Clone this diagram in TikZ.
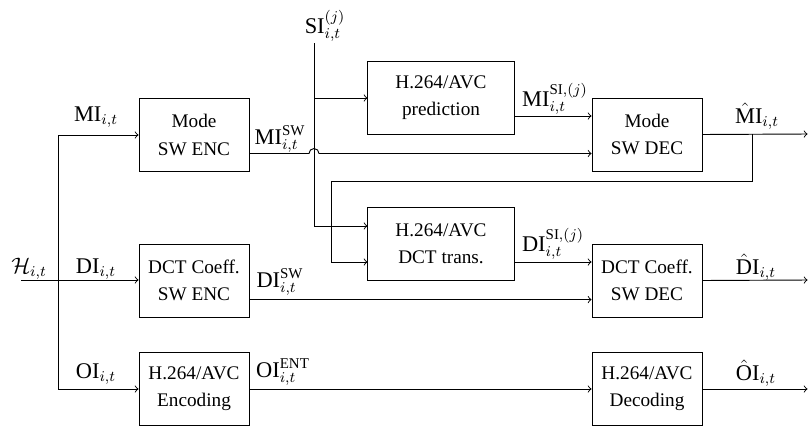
\documentclass[tikz,border=0pt]{standalone}
\usepackage{fontspec}
\setmainfont{Liberation Serif}
\begin{document}
\begin{tikzpicture}[x=0.5353pt,y=-0.5353pt,
  blk/.style={draw,line width=0.5pt,minimum width=58.9pt,minimum height=39.1pt,inner sep=0pt,align=center,font=\fontsize{10.3}{14.5}\selectfont},
  wblk/.style={blk,minimum width=78.2pt},
  lbl/.style={inner sep=0pt,font=\fontsize{12}{14}\selectfont},
  wire/.style={line width=0.5pt},
  arr/.style={wire,->}]
\clip (0,0) rectangle (809,425);
\useasboundingbox (0,0) rectangle (809,425);
% blocks
\node[blk] (me) at (194,135) {Mode\\SW ENC};
\node[blk] (de) at (194,280.5) {DCT Coeff.\\SW ENC};
\node[blk] (en) at (194,389) {H.264/AVC\\Encoding};
\node[wblk] (pr) at (441,98) {H.264/AVC\\prediction};
\node[wblk] (tr) at (441,244) {H.264/AVC\\DCT trans.};
\node[blk] (md) at (647,134.5) {Mode\\SW DEC};
\node[blk] (dd) at (647,280.5) {DCT Coeff.\\SW DEC};
\node[blk] (dc) at (647,389) {H.264/AVC\\Decoding};
% coordinates
\coordinate (hin) at (21,280);
\coordinate (sp) at (58,280);
\coordinate (si) at (314,43);
\coordinate (fb) at (752,134);
\coordinate (mout) at (807.5,134);
\coordinate (dout) at (807.5,280);
\coordinate (oout) at (807.5,389);
% left split
\draw[wire] (hin) -- (sp);
\draw[arr] (sp) -- (sp -| de.west);
\draw[arr] (sp) |- (me.west);
\draw[arr] (sp) |- (en.west);
% SI
\draw[arr] (si) |- ([yshift=9.64pt]tr.west);
\draw[arr] (si |- pr.west) -- (pr.west);
% predictions
\draw[arr] ([yshift=-9.64pt]pr.east) -- ([yshift=-9.64pt]pr.east -| md.west);
\draw[arr] ([yshift=-9.64pt]tr.east) -- ([yshift=-9.64pt]tr.east -| dd.west);
% MI SW with jump
\draw[arr] ([yshift=-9.9pt]me.east) -- (309,153.5) arc[start angle=180,end angle=360,radius=5] -- ([yshift=-9.9pt]me.east -| md.west);
% DI SW
\draw[arr] ([yshift=-10.2pt]de.east) -- ([yshift=-10.2pt]de.east -| dd.west);
% OI ENT
\draw[arr] (en.east) -- (dc.west);
% outputs
\draw[arr] (md.east) -- (mout);
\draw[arr] (dd.east) -- (dout);
\draw[arr] (dc.east) -- (oout);
% feedback
\draw[arr] (fb) |- (331,181) |- ([yshift=-9.64pt]tr.west);
% labels
\node[lbl] (lsi) at (325,26) {$\mathrm{SI}_{i,t}^{(j)}$};
\node[lbl] (lmi) at (96,117) {$\mathrm{MI}_{i,t}$};
\node[lbl] (lmisw) at (280,139) {$\mathrm{MI}_{i,t}^{\mathrm{SW}}$};
\node[lbl] (lh) at (29,269) {$\mathcal{H}_{i,t}$};
\node[lbl] (ldi) at (96,269) {$\mathrm{DI}_{i,t}$};
\node[lbl] (ldisw) at (280,282) {$\mathrm{DI}_{i,t}^{\mathrm{SW}}$};
\node[lbl] (loi) at (96,374) {$\mathrm{OI}_{i,t}$};
\node[lbl] (loient) at (283,372) {$\mathrm{OI}_{i,t}^{\mathrm{ENT}}$};
\node[lbl] (lmisi) at (555,99) {$\mathrm{MI}_{i,t}^{\mathrm{SI},(j)}$};
\node[lbl] (lmih) at (757,116) {$\hat{\mathrm{M}}\mathrm{I}_{i,t}$};
\node[lbl] (ldisi) at (553,244) {$\mathrm{DI}_{i,t}^{\mathrm{SI},(j)}$};
\node[lbl] (ldih) at (756,267) {$\hat{\mathrm{D}}\mathrm{I}_{i,t}$};
\node[lbl] (loih) at (756,373) {$\hat{\mathrm{O}}\mathrm{I}_{i,t}$};
\end{tikzpicture}
\end{document}
